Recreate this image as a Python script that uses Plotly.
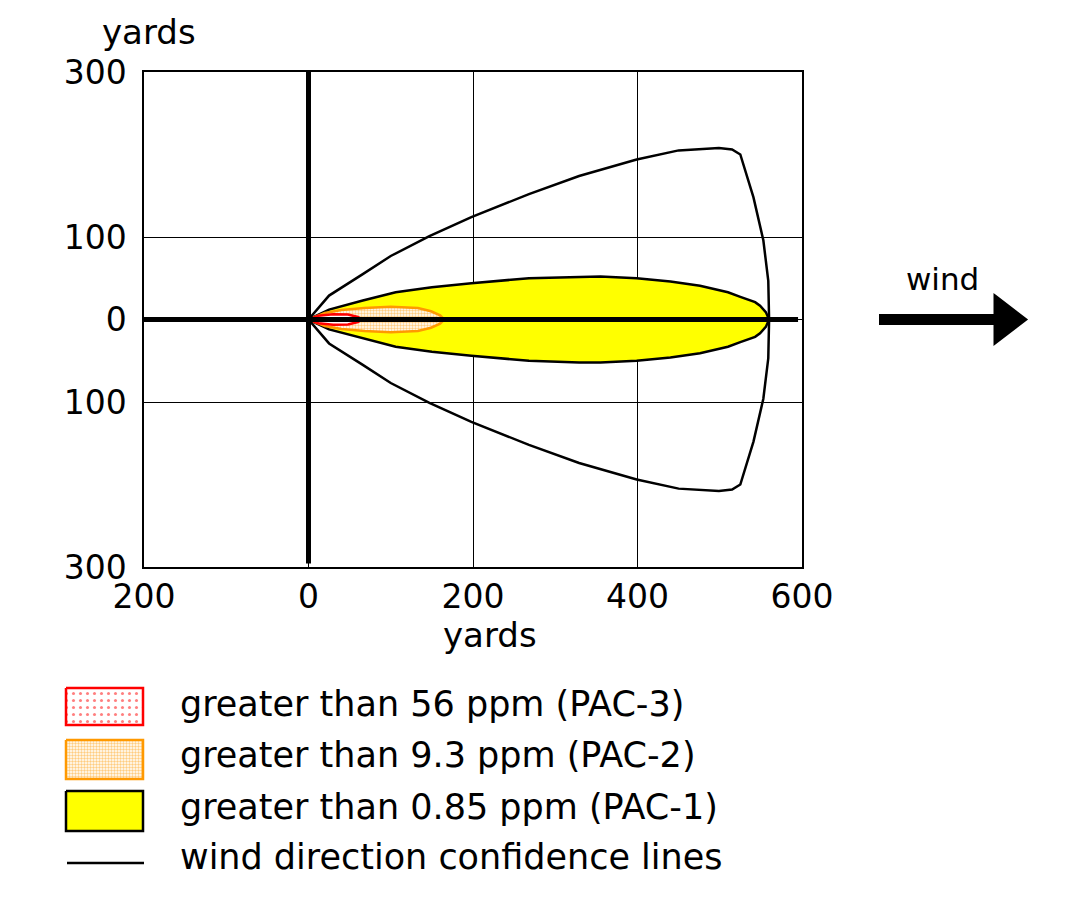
import plotly.graph_objects as go

W, H = 1068, 898
OFF = 7  # page body margin compensation (px)

# ---------------- data (yards) ----------------
# wind direction confidence lines (upper half; lower half mirrored)
conf_x = [0, 25, 66, 100, 147, 198, 268, 329, 399, 450, 499, 515, 525, 541, 553, 559, 560]
conf_y = [0, 29, 55, 77, 101, 124, 152, 174, 194, 205, 208, 206, 200, 148, 96, 47, 0]

# PAC-1 (> 0.85 ppm) upper half-width
pac1_x = [0, 25, 66, 106, 150, 198, 268, 329, 355, 399, 440, 476, 510, 525, 543, 549, 556, 560]
pac1_y = [0, 12, 23, 33, 39, 44, 50, 52, 52, 50, 46, 41, 33, 27.5, 21, 16.7, 9, 0]

# PAC-2 (> 9.3 ppm)
pac2_x = [0, 20, 40, 68, 100, 133, 149, 160, 165]
pac2_y = [0, 8, 11.5, 14, 15.5, 14, 10, 5, 0]

# PAC-3 (> 56 ppm)
pac3_x = [0, 12, 30, 48, 60, 65]
pac3_y = [0, 4.5, 6.5, 6, 3, 0]

x_ticks = [-200, 0, 200, 400, 600]
x_tick_text = ["200", "0", "200", "400", "600"]
y_ticks = [-300, -100, 0, 100, 300]
y_tick_text = ["300", "100", "0", "100", "300"]

legend_labels = [
    "greater than 56 ppm (PAC-3)",
    "greater than 9.3 ppm (PAC-2)",
    "greater than 0.85 ppm (PAC-1)",
    "wind direction confidence lines",
]

FONT = "DejaVu Sans, Verdana, sans-serif"
RED = "#FF0000"
ORANGE = "#FF9900"
YELLOW = "#FFFF00"
RED_PAT = dict(shape=".", fgcolor=RED, bgcolor="white", size=7, solidity=0.15)
ORANGE_PAT = dict(shape=".", fgcolor=ORANGE, bgcolor="white", size=3, solidity=0.5)


def closed(xs, ys):
    # upper edge out, lower edge (mirror) back
    px = list(xs) + list(reversed(xs))
    py = list(ys) + [-v for v in reversed(ys)]
    return px, py


def px2paper(px, py):
    return (px - OFF) / W, 1 - (py - OFF) / H


fig = go.Figure()

# PAC-1
x1, y1 = closed(pac1_x, pac1_y)
fig.add_trace(go.Scatter(x=x1, y=y1, mode="lines", fill="toself", fillcolor=YELLOW,
                         line=dict(color="black", width=2.5), hoverinfo="skip", showlegend=False))
# PAC-2
x2, y2 = closed(pac2_x, pac2_y)
fig.add_trace(go.Scatter(x=x2, y=y2, mode="lines", fill="toself", fillcolor="white",
                         fillpattern=ORANGE_PAT,
                         line=dict(color=ORANGE, width=2.5), hoverinfo="skip", showlegend=False))
# PAC-3
x3, y3 = closed(pac3_x, pac3_y)
fig.add_trace(go.Scatter(x=x3, y=y3, mode="lines", fill="toself", fillcolor="white",
                         fillpattern=RED_PAT,
                         line=dict(color=RED, width=2.5), hoverinfo="skip", showlegend=False))
# confidence lines
cx, cy = closed(conf_x, conf_y)
fig.add_trace(go.Scatter(x=cx, y=cy, mode="lines", line=dict(color="black", width=2.5),
                         hoverinfo="skip", showlegend=False))

# ---------------- legend swatches (own small axes, pixel units) ----------------
sw_x0, sw_x1 = 65, 142
sw_rows = [(687, 724), (739, 778), (790, 830)]
sw_line_y = 862
styles = [
    dict(fillcolor="white", fillpattern=RED_PAT, line=dict(color=RED, width=2.5)),
    dict(fillcolor="white", fillpattern=ORANGE_PAT, line=dict(color=ORANGE, width=2.5)),
    dict(fillcolor=YELLOW, line=dict(color="black", width=2.5)),
]
for (ya, yb), st in zip(sw_rows, styles):
    fig.add_trace(go.Scatter(x=[sw_x0, sw_x1, sw_x1, sw_x0, sw_x0], y=[ya, ya, yb, yb, ya],
                             mode="lines", fill="toself", xaxis="x2", yaxis="y2",
                             hoverinfo="skip", showlegend=False, **st))
fig.add_trace(go.Scatter(x=[sw_x0 + 1, sw_x1 + 1], y=[sw_line_y, sw_line_y], mode="lines",
                         line=dict(color="black", width=2.5), xaxis="x2", yaxis="y2",
                         hoverinfo="skip", showlegend=False))

annotations = []
for lbl, yc in zip(legend_labels, [703, 754, 806, 856]):
    xp, yp = px2paper(177, yc)
    annotations.append(dict(x=xp, y=yp, xref="paper", yref="paper", text=lbl, showarrow=False,
                            xanchor="left", yanchor="middle", font=dict(family=FONT, size=35, color="black")))

for txt, (pxc, pyc), fs in [("yards", (148, 31), 34), ("yards", (489, 634), 34), ("wind", (941, 278), 31)]:
    xp, yp = px2paper(pxc, pyc)
    annotations.append(dict(x=xp, y=yp, xref="paper", yref="paper", text=txt, showarrow=False,
                            xanchor="center", yanchor="middle", font=dict(family=FONT, size=fs, color="black")))

shapes = [
    # thick axis lines through origin
    dict(type="line", xref="x domain", yref="y", x0=0, x1=0.994, y0=0, y1=0,
         line=dict(color="black", width=5), layer="above"),
    dict(type="line", xref="x", yref="y domain", x0=0, x1=0, y0=0.007, y1=1,
         line=dict(color="black", width=5), layer="above"),
]
# wind arrow
ax0, ay0 = px2paper(878, 318.5)
ax1, _ = px2paper(996, 318.5)
shapes.append(dict(type="line", xref="paper", yref="paper", x0=ax0, x1=ax1, y0=ay0, y1=ay0,
                   line=dict(color="black", width=11)))
p1 = px2paper(995, 297)
p2 = px2paper(1023, 318.5)
p3 = px2paper(995, 340)
shapes.append(dict(type="path", xref="paper", yref="paper",
                   path=f"M {p1[0]},{p1[1]} L {p2[0]},{p2[1]} L {p3[0]},{p3[1]} Z",
                   fillcolor="black", line=dict(color="black", width=5)))

x_dom = [(143 - OFF) / W, (801 - OFF) / W]
y_dom = [1 - (566 - OFF) / H, 1 - (71 - OFF) / H]
lx0, ly0 = px2paper(55, 875)
lx1, ly1 = px2paper(155, 675)

fig.update_layout(
    width=W, height=H,
    margin=dict(l=0, r=0, t=0, b=0, pad=0, autoexpand=False),
    paper_bgcolor="white", plot_bgcolor="white",
    font=dict(family=FONT, size=33, color="black"),
    showlegend=False,
    xaxis=dict(domain=x_dom, range=[-200, 600], tickvals=x_ticks, ticktext=x_tick_text,
               showgrid=True, gridcolor="black", gridwidth=1.2, zeroline=False,
               showline=True, mirror=True, linecolor="black", linewidth=1.5,
               ticks="", ticklabelstandoff=0, automargin=False,
               tickfont=dict(family=FONT, size=33, color="black"), fixedrange=True),
    yaxis=dict(domain=y_dom, range=[-300, 300], tickvals=y_ticks, ticktext=y_tick_text,
               showgrid=True, gridcolor="black", gridwidth=1.2, zeroline=False,
               showline=True, mirror=True, linecolor="black", linewidth=1.5,
               ticks="", ticklabelstandoff=9, automargin=False,
               tickfont=dict(family=FONT, size=33, color="black"), fixedrange=True),
    xaxis2=dict(domain=[lx0, lx1], range=[55, 155], visible=False, fixedrange=True),
    yaxis2=dict(domain=[ly0, ly1], range=[875, 675], visible=False, fixedrange=True),
    annotations=annotations,
    shapes=shapes,
)

fig.write_html("out.html")
